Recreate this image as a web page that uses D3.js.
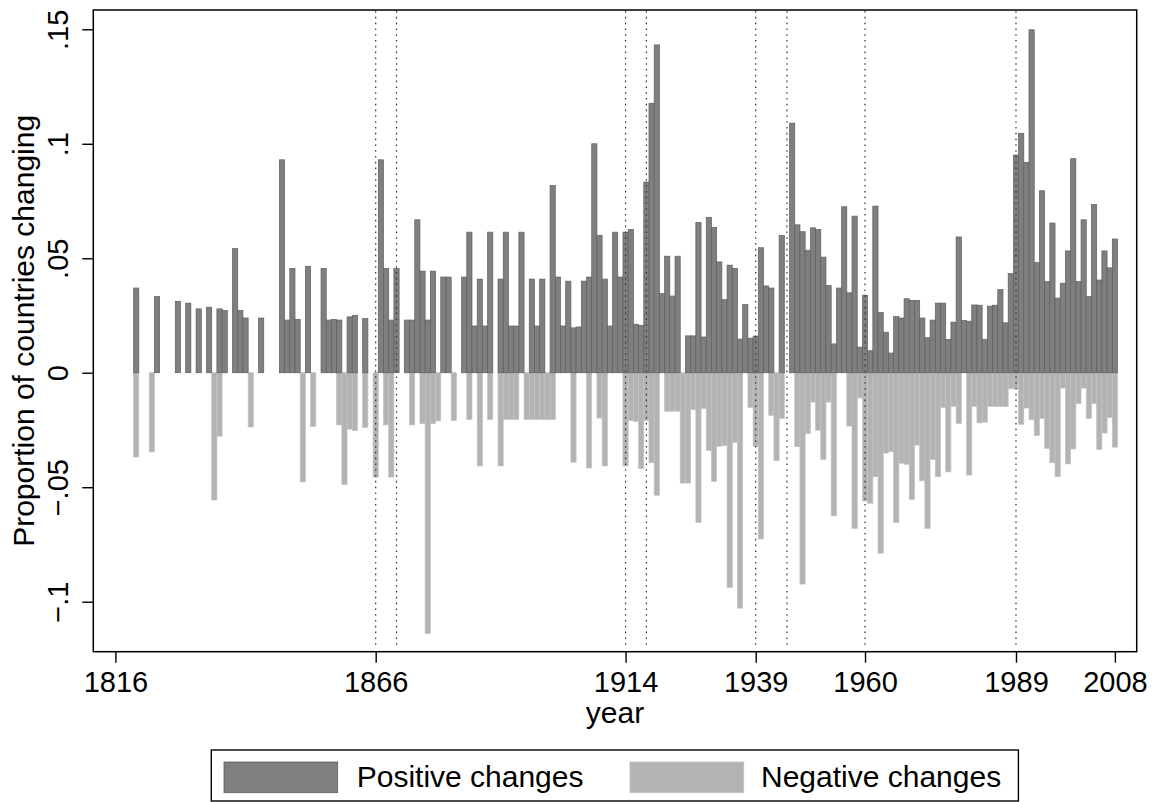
<!DOCTYPE html>
<html>
<head>
<meta charset="utf-8">
<script src="https://cdn.jsdelivr.net/npm/d3@7"></script>
<style>
  html, body { margin: 0; padding: 0; background: #fff; }
  svg { display: block; }
  text { font-family: "Liberation Sans", Arial, Helvetica, sans-serif; fill: #000; }
</style>
</head>
<body>
<svg id="chart" width="1153" height="802"></svg>
<script>
// ---------------- data ----------------
const posYears = [1820,1824,1828,1830,1832,1834,1836,1837,1839,1840,1841,1844,1848,1849,1850,1851,1853,1856,1857,1858,1859,1861,1862,1864,1867,1868,1869,1870,1872,1873,1874,1875,1876,1877,1879,1880,1883,1884,1885,1886,1887,1888,1890,1891,1892,1893,1894,1896,1897,1898,1900,1901,1902,1903,1904,1905,1906,1907,1908,1909,1910,1911,1912,1913,1914,1915,1916,1917,1918,1919,1920,1921,1922,1923,1924,1926,1927,1928,1929,1930,1931,1932,1933,1934,1935,1936,1937,1938,1939,1940,1941,1942,1944,1946,1947,1948,1949,1950,1951,1952,1953,1954,1955,1956,1957,1958,1959,1960,1961,1962,1963,1964,1965,1966,1967,1968,1969,1970,1971,1972,1973,1974,1975,1976,1977,1978,1979,1980,1981,1982,1983,1984,1985,1986,1987,1988,1989,1990,1991,1992,1993,1994,1995,1996,1997,1998,1999,2000,2001,2002,2003,2004,2005,2006,2007,2008];
const posValues = [.037,.0333,.0312,.0304,.0279,.0286,.0279,.0272,.0542,.0272,.0239,.0239,.093,.023,.0456,.0233,.0465,.0456,.023,.0233,.023,.0244,.0251,.0237,.093,.0456,.023,.0456,.023,.023,.0668,.0444,.023,.0444,.0418,.0418,.0418,.0614,.0204,.0409,.0204,.0614,.0409,.0614,.0204,.0204,.0614,.0409,.0204,.0409,.0818,.0418,.0204,.04,.0196,.02,.04,.0418,.1,.06,.0409,.0204,.0614,.0418,.0614,.0626,.0212,.0207,.0833,.1177,.1432,.0346,.0509,.0335,.0509,.0161,.0161,.0656,.0156,.0679,.0635,.0484,.0319,.047,.0456,.0147,.0298,.0151,.016,.0546,.0379,.037,.06,.109,.0646,.0616,.0535,.0633,.0626,.0505,.0381,.0126,.037,.0725,.0349,.0684,.0112,.0339,.0096,.0728,.0263,.0177,.0086,.0246,.0239,.0323,.0316,.0316,.0239,.0153,.023,.0304,.0304,.0146,.0221,.0593,.0228,.0225,.0296,.0295,.0146,.0291,.0295,.0363,.0218,.0433,.0951,.1046,.0919,.1498,.0481,.0795,.0398,.0654,.0326,.0391,.0532,.0935,.0398,.0668,.0333,.0735,.0405,.0532,.0458,.0584];

const negYears = [1820,1823,1835,1836,1842,1852,1854,1859,1860,1861,1862,1864,1866,1868,1869,1873,1875,1876,1877,1878,1881,1884,1886,1888,1890,1891,1892,1893,1895,1896,1897,1898,1899,1900,1904,1907,1909,1910,1914,1915,1916,1917,1918,1919,1920,1922,1923,1924,1925,1926,1927,1928,1929,1930,1931,1932,1933,1934,1935,1936,1938,1939,1940,1942,1943,1944,1947,1948,1949,1950,1951,1952,1953,1954,1957,1958,1959,1960,1961,1962,1963,1964,1965,1966,1967,1968,1969,1970,1971,1972,1973,1974,1975,1976,1977,1978,1980,1981,1982,1983,1984,1985,1986,1987,1988,1989,1990,1991,1992,1993,1994,1995,1996,1997,1998,1999,2000,2001,2002,2003,2004,2005,2006,2007,2008];
const negValues = [-.0368,-.0346,-.0556,-.0277,-.0237,-.0477,-.0235,-.0228,-.0488,-.0246,-.0253,-.0239,-.0456,-.0228,-.0456,-.0228,-.0223,-.1139,-.0221,-.021,-.0209,-.0204,-.0407,-.0204,-.0407,-.0204,-.0204,-.0204,-.0204,-.0204,-.0204,-.0204,-.0204,-.0204,-.0391,-.0416,-.0198,-.0407,-.0407,-.0209,-.0212,-.0418,-.0209,-.0393,-.0535,-.0168,-.0168,-.0168,-.0482,-.0482,-.0161,-.0654,-.0156,-.0339,-.0475,-.0321,-.0318,-.0937,-.0304,-.1028,-.0151,-.0321,-.0726,-.0186,-.0384,-.02,-.0323,-.0923,-.0265,-.0128,-.0251,-.0379,-.0128,-.0625,-.0233,-.068,-.011,-.056,-.057,-.0454,-.0788,-.0351,-.0344,-.0654,-.0395,-.04,-.0553,-.0316,-.0472,-.068,-.0379,-.0454,-.0151,-.0433,-.0147,-.0221,-.0447,-.0147,-.0219,-.0216,-.0147,-.0147,-.0147,-.0147,-.007,-.007,-.0225,-.0154,-.0205,-.0274,-.02,-.033,-.0393,-.0454,-.0067,-.0398,-.0333,-.0135,-.0067,-.02,-.0135,-.0335,-.0263,-.0195,-.0325];

const xTickYears = [1816, 1866, 1914, 1939, 1960, 1989, 2008];
const yTickValues = [-0.1, -0.05, 0, 0.05, 0.1, 0.15];
const yTickLabels = ["\u2212.1", "\u2212.05", "0", ".05", ".1", ".15"];
const eventYears = [1866, 1870, 1914, 1918, 1939, 1945, 1960, 1989];
const seriesNames = ["Positive changes", "Negative changes"];
const xTitle = "year";
const yTitle = "Proportion of countries changing";

// ---------------- layout ----------------
const frame = { left: 93.3, right: 1136.7, top: 10, bottom: 651.7 };
const colors = {
  posFill: "#7f7f7f", posStroke: "#5e5e5e",
  negFill: "#b3b3b3", negStroke: "#c2c2c2"
};

const svg = d3.select("#chart");

const x = d3.scaleLinear().domain([1816, 2008]).range([115.4, 1114.9]);
const y = d3.scaleLinear().domain([-0.1, 0.15]).range([601.7, 29.3]);
const barW = x(1817) - x(1816);

// bars
const pos = posYears.map((yr, i) => ({ year: yr, v: posValues[i] }));
const neg = negYears.map((yr, i) => ({ year: yr, v: negValues[i] }));

svg.append("g").selectAll("rect").data(neg).join("rect")
  .attr("x", d => x(d.year) - barW / 2)
  .attr("width", barW)
  .attr("y", y(0))
  .attr("height", d => y(d.v) - y(0))
  .attr("fill", colors.negFill)
  .attr("stroke", colors.negStroke)
  .attr("stroke-width", 0.7);

svg.append("g").selectAll("rect").data(pos).join("rect")
  .attr("x", d => x(d.year) - barW / 2)
  .attr("width", barW)
  .attr("y", d => y(d.v))
  .attr("height", d => y(0) - y(d.v))
  .attr("fill", colors.posFill)
  .attr("stroke", colors.posStroke)
  .attr("stroke-width", 0.7);

// event lines
svg.append("g").selectAll("line").data(eventYears).join("line")
  .attr("x1", d => x(d)).attr("x2", d => x(d))
  .attr("y1", frame.top + 1).attr("y2", frame.bottom - 6)
  .attr("stroke", "#333")
  .attr("stroke-width", 1.2)
  .attr("stroke-dasharray", "1.6,4.2");

// frame
svg.append("rect")
  .attr("x", frame.left).attr("y", frame.top)
  .attr("width", frame.right - frame.left)
  .attr("height", frame.bottom - frame.top)
  .attr("fill", "none").attr("stroke", "#000").attr("stroke-width", 1.5);

// x axis
const xAxis = svg.append("g")
  .attr("transform", `translate(0,${frame.bottom})`)
  .call(d3.axisBottom(x).tickValues(xTickYears).tickSize(11).tickFormat(d3.format("d")));
xAxis.select(".domain").remove();
xAxis.selectAll(".tick line").attr("stroke", "#000").attr("stroke-width", 1.4);
xAxis.selectAll(".tick text")
  .attr("y", 40).attr("dy", null)
  .style("font-size", "29px")
  .attr("fill", "#000");

// y axis
const yAxis = svg.append("g")
  .attr("transform", `translate(${frame.left},0)`)
  .call(d3.axisLeft(y).tickValues(yTickValues).tickSize(11)
    .tickFormat((d, i) => yTickLabels[i]));
yAxis.select(".domain").remove();
yAxis.selectAll(".tick line").attr("stroke", "#000").attr("stroke-width", 1.4);
yAxis.selectAll(".tick text")
  .attr("x", 0).attr("y", 0).attr("dy", null)
  .attr("text-anchor", "middle")
  .attr("transform", "translate(-25.3,0) rotate(-90)")
  .style("font-size", "29px")
  .attr("fill", "#000");

// axis titles
svg.append("text")
  .attr("x", (frame.left + frame.right) / 2).attr("y", 723)
  .attr("text-anchor", "middle")
  .style("font-size", "30px")
  .text(xTitle);

svg.append("text")
  .attr("transform", `translate(34,${(frame.top + frame.bottom) / 2}) rotate(-90)`)
  .attr("text-anchor", "middle")
  .style("font-size", "30px")
  .text(yTitle);

// legend
const lg = svg.append("g");
lg.append("rect")
  .attr("x", 211.3).attr("y", 750).attr("width", 807.1).attr("height", 51)
  .attr("fill", "#fff").attr("stroke", "#000").attr("stroke-width", 1.4);
const legendItems = [
  { name: seriesNames[0], fill: colors.posFill, stroke: colors.posStroke, sx: 224, tx: 356.7 },
  { name: seriesNames[1], fill: colors.negFill, stroke: colors.negStroke, sx: 630, tx: 761 }
];
legendItems.forEach(it => {
  lg.append("rect")
    .attr("x", it.sx).attr("y", 762).attr("width", 113.7).attr("height", 30.7)
    .attr("fill", it.fill).attr("stroke", it.stroke).attr("stroke-width", 0.8);
  lg.append("text")
    .attr("x", it.tx).attr("y", 787)
    .style("font-size", "30px")
    .text(it.name);
});
</script>
</body>
</html>
